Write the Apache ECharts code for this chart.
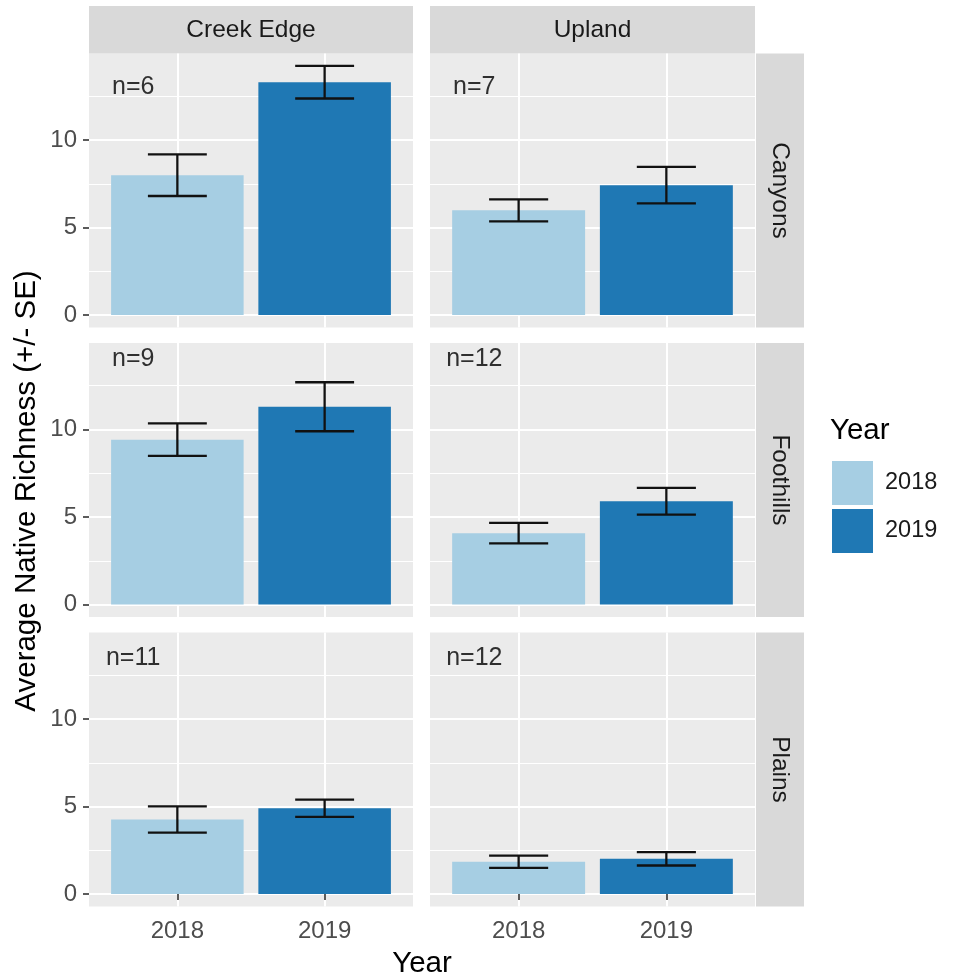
<!DOCTYPE html>
<html>
<head>
<meta charset="utf-8">
<script src="https://cdn.jsdelivr.net/npm/echarts@6/dist/echarts.min.js"></script>
<style>
  html, body { margin: 0; padding: 0; background: #ffffff; }
  #chart { width: 974px; height: 980px; }
</style>
</head>
<body>
<div id="chart"></div>
<script>
// Facet columns (habitat) and rows (region)
const habitats = ['Creek Edge', 'Upland'];
const regions = ['Canyons', 'Foothills', 'Plains'];
const years = ['2018', '2019'];

// Panel order: Canyons/Creek Edge, Canyons/Upland, Foothills/Creek Edge, Foothills/Upland, Plains/Creek Edge, Plains/Upland
const mean2018 = [7.99, 5.98, 9.42, 4.08, 4.26, 1.85];
const mean2019 = [13.30, 7.42, 11.30, 5.90, 4.90, 2.01];
const se2018 = [1.19, 0.63, 0.93, 0.59, 0.75, 0.35];
const se2019 = [0.93, 1.04, 1.40, 0.76, 0.49, 0.38];
const sampleSizes = [6, 7, 9, 12, 11, 12];
const sampleLabelY = [13, 13, 14, 14, 13.5, 13.5];

const yTicks = [0, 5, 10];
const yMinorTicks = [2.5, 7.5, 12.5];
const xPositions = [1, 2];

const colors = ['#A6CEE3', '#1F78B4'];
const FONT = '"Liberation Sans", Arial, sans-serif';

// Panel geometry
const colLeft = [89, 430];
const colWidth = [324, 325];
const rowTop = [53.5, 343, 632.5];
const rowHeight = 274;
const stripTop = 6;
const stripH = 47.5;
const stripRightX = 756;
const stripW = 48;

// Shared y range: 5% padding around [0, highest error bar]
const tops = [];
for (let i = 0; i < 6; i++) {
  tops.push(mean2018[i] + se2018[i], mean2019[i] + se2019[i]);
}
const yHigh = Math.max(...tops);
const yMin = -0.05 * yHigh;
const yMax = yHigh * 1.05;

const grids = [], xAxes = [], yAxes = [], series = [], graphics = [];

for (let r = 0; r < 3; r++) {
  for (let c = 0; c < 2; c++) {
    const p = r * 2 + c;
    grids.push({
      left: colLeft[c], top: rowTop[r], width: colWidth[c], height: rowHeight,
      show: true, backgroundColor: '#EBEBEB', borderWidth: 0, containLabel: false
    });
    const bottomRow = r === 2;
    xAxes.push({
      type: 'value', gridIndex: p, min: 0.4, max: 2.6,
      axisLine: { show: false },
      axisTick: { show: bottomRow, customValues: xPositions, length: 6, lineStyle: { color: '#333333', width: 1.6 } },
      axisLabel: {
        show: bottomRow, customValues: xPositions, margin: 13,
        formatter: v => years[Math.round(v) - 1],
        color: '#4D4D4D', fontSize: 24, fontFamily: FONT
      },
      splitLine: { show: true, lineStyle: { color: '#FFFFFF', width: 2 } }
    });
    const leftCol = c === 0;
    // major y axis
    yAxes.push({
      type: 'value', gridIndex: p, min: yMin, max: yMax,
      axisLine: { show: false },
      axisTick: { show: leftCol, customValues: yTicks, length: 6, lineStyle: { color: '#333333', width: 1.6 } },
      axisLabel: {
        show: leftCol, customValues: yTicks, margin: 12,
        color: '#4D4D4D', fontSize: 24, fontFamily: FONT
      },
      splitLine: { show: true, lineStyle: { color: '#FFFFFF', width: 2 } }
    });
  }
}
// minor y gridlines on a second, unlabeled axis per panel
for (let p = 0; p < 6; p++) {
  yAxes.push({
    type: 'value', gridIndex: p, min: yMin, max: yMax, position: 'left',
    axisLine: { show: false },
    axisTick: { show: false, customValues: yMinorTicks },
    axisLabel: { show: false, customValues: yMinorTicks },
    splitLine: { show: true, lineStyle: { color: '#FFFFFF', width: 1 } }
  });
}

const means = [mean2018, mean2019];
const ses = [se2018, se2019];

for (let p = 0; p < 6; p++) {
  // bars
  for (let k = 0; k < 2; k++) {
    const col = colors[k];
    series.push({
      type: 'custom', name: years[k], xAxisIndex: p, yAxisIndex: p,
      itemStyle: { color: col },
      encode: { x: 0, y: 1 },
      data: [[xPositions[k], means[k][p]]],
      z: 3,
      renderItem: (params, api) => {
        const x = api.value(0), y = api.value(1);
        const a = api.coord([x - 0.45, y]);
        const b = api.coord([x + 0.45, 0]);
        return {
          type: 'rect',
          shape: { x: a[0], y: a[1], width: b[0] - a[0], height: b[1] - a[1] },
          style: { fill: col }
        };
      }
    });
  }
  // error bars
  series.push({
    type: 'custom', name: 'se', xAxisIndex: p, yAxisIndex: p, z: 4,
    encode: { x: 0, y: [1, 2] },
    data: [0, 1].map(k => [xPositions[k], means[k][p] - ses[k][p], means[k][p] + ses[k][p]]),
    renderItem: (params, api) => {
      const x = api.value(0), lo = api.value(1), hi = api.value(2);
      const pl = api.coord([x - 0.2, lo]), pr = api.coord([x + 0.2, lo]);
      const ql = api.coord([x - 0.2, hi]), qr = api.coord([x + 0.2, hi]);
      const cLo = api.coord([x, lo]), cHi = api.coord([x, hi]);
      const st = { stroke: '#111111', lineWidth: 2.3 };
      return {
        type: 'group',
        children: [
          { type: 'line', shape: { x1: pl[0], y1: pl[1], x2: pr[0], y2: pr[1] }, style: st },
          { type: 'line', shape: { x1: ql[0], y1: ql[1], x2: qr[0], y2: qr[1] }, style: st },
          { type: 'line', shape: { x1: cLo[0], y1: cLo[1], x2: cHi[0], y2: cHi[1] }, style: st }
        ]
      };
    }
  });
  // sample size label
  series.push({
    type: 'scatter', name: 'n', xAxisIndex: p, yAxisIndex: p, z: 5,
    symbolSize: 0, silent: true,
    data: [[0.7, sampleLabelY[p], sampleSizes[p]]],
    label: {
      show: true, position: 'inside',
      formatter: d => 'n=' + d.value[2],
      color: '#000000', fontSize: 25, fontFamily: FONT
    }
  });
}

// Column strips
for (let c = 0; c < 2; c++) {
  graphics.push({
    type: 'rect', shape: { x: colLeft[c], y: stripTop, width: colWidth[c], height: stripH },
    style: { fill: '#D9D9D9' }, silent: true
  });
  graphics.push({
    type: 'text', x: colLeft[c] + colWidth[c] / 2, y: stripTop + stripH / 2,
    style: { text: habitats[c], fill: '#1A1A1A', fontSize: 24.5, fontFamily: FONT, align: 'center', verticalAlign: 'middle' },
    silent: true
  });
}
// Row strips
for (let r = 0; r < 3; r++) {
  graphics.push({
    type: 'rect', shape: { x: stripRightX, y: rowTop[r], width: stripW, height: rowHeight },
    style: { fill: '#D9D9D9' }, silent: true
  });
  graphics.push({
    type: 'text', x: stripRightX + stripW / 2, y: rowTop[r] + rowHeight / 2, rotation: -Math.PI / 2,
    style: { text: regions[r], fill: '#1A1A1A', fontSize: 24.5, fontFamily: FONT, align: 'center', verticalAlign: 'middle' },
    silent: true
  });
}
// Axis titles
graphics.push({
  type: 'text', x: (colLeft[0] + colLeft[1] + colWidth[1]) / 2, y: 964,
  style: { text: 'Year', fill: '#000000', fontSize: 29.5, fontFamily: FONT, align: 'center', verticalAlign: 'middle' },
  silent: true
});
graphics.push({
  type: 'text', x: 27, y: 491, rotation: Math.PI / 2,
  style: { text: 'Average Native Richness (+/- SE)', fill: '#000000', fontSize: 29.5, fontFamily: FONT, align: 'center', verticalAlign: 'middle' },
  silent: true
});
// Legend title
graphics.push({
  type: 'text', x: 830, y: 431,
  style: { text: 'Year', fill: '#000000', fontSize: 29.5, fontFamily: FONT, align: 'left', verticalAlign: 'middle' },
  silent: true
});

const chart = echarts.init(document.getElementById('chart'), null, { renderer: 'canvas' });
chart.setOption({
  animation: false,
  backgroundColor: '#FFFFFF',
  grid: grids,
  xAxis: xAxes,
  yAxis: yAxes,
  legend: {
    data: years.map(y => ({ name: y, icon: 'rect' })),
    orient: 'vertical', left: 827, top: 456,
    itemWidth: 41, itemHeight: 44, itemGap: 4,
    selectedMode: false,
    textStyle: { fontSize: 23.5, color: '#1A1A1A', fontFamily: FONT, padding: [0, 0, 0, 7] }
  },
  series: series,
  graphic: graphics
});
</script>
</body>
</html>
